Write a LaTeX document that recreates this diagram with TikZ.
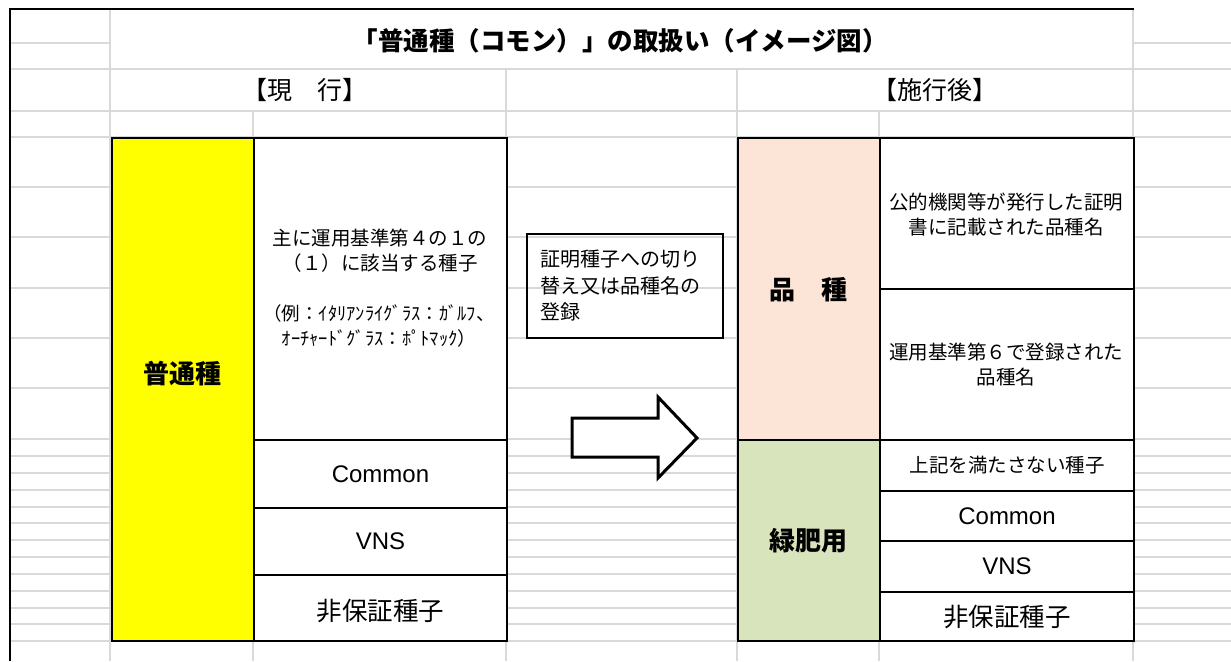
\documentclass[tikz,border=0pt]{standalone}
\usepackage{fontspec}
\newfontfamily\jp{Noto Sans CJK JP}
\newfontfamily\lat{Liberation Sans}
\definecolor{gridgray}{HTML}{D9D9D9}
\definecolor{pinkfill}{HTML}{FCE4D6}
\definecolor{greenfill}{HTML}{D8E4BC}
\definecolor{yellowfill}{HTML}{FFFF00}
\tikzset{
  gridline/.style={draw=gridgray, line width=1.3pt},
  frameline/.style={draw=black, line width=2pt},
  cellbox/.style={draw=black, line width=2pt, inner sep=0pt, anchor=north west, fill=white},
  lbl/.style={align=center, inner sep=0pt},
  jmid/.style={lbl, font=\jp\fontsize{19.5}{25}\selectfont},
  jbig/.style={lbl, font=\jp\fontsize{25.5}{30}\selectfont},
  lbig/.style={lbl, font=\lat\fontsize{24}{28}\selectfont},
  jbold/.style={lbl, font=\jp\bfseries\fontsize{26}{30}\selectfont},
}
\begin{document}
\begin{tikzpicture}[x=1pt, y=-1pt]
\useasboundingbox (0,0) rectangle (1231,661);
% spreadsheet grid
\foreach \yy in {69,111,137,187,237,288,338,388,439,456,473,490,507,523,540,557,574,591,608,624,641}
  \draw[gridline] (10,\yy) -- (1231,\yy);
\draw[gridline] (10,43) -- (110,43);
\draw[gridline] (1133,43) -- (1231,43);
\draw[gridline] (110,9) -- (110,661);
\draw[gridline] (253,111) -- (253,661);
\draw[gridline] (506,69) -- (506,661);
\draw[gridline] (737,69) -- (737,661);
\draw[gridline] (879,111) -- (879,661);
\draw[gridline] (1133,9) -- (1133,661);
\draw[frameline] (10,661) -- (10,9) -- (1134,9);

% headings
\node[lbl, font=\jp\bfseries\fontsize{25.5}{30}\selectfont] (title) at (620,41) {「普通種（コモン）」の取扱い（イメージ図）};
\node[lbl, font=\jp\fontsize{25}{28}\selectfont] (cur) at (305,90) {【現　行】};
\node[lbl, font=\jp\fontsize{25}{28}\selectfont] (aft) at (935,90) {【施行後】};

% left (current)
\node[cellbox, fill=yellowfill, minimum width=142pt, minimum height=503pt] (ybox) at (111,137) {};
\node[jbold] (ylab) at (182,374) {普通種};
\node[cellbox, minimum width=253pt, minimum height=302pt] (lmain) at (253,137) {};
\node[jmid] (lmaintxt) at (380,250.5) {主に運用基準第４の１の\\（１）に該当する種子};
\node[lbl, font=\jp\fontsize{18.5}{25}\selectfont] (lex) at (379,325.5) {（例：ｲﾀﾘｱﾝﾗｲｸﾞﾗｽ：ｶﾞﾙﾌ、\\ｵｰﾁｬｰﾄﾞｸﾞﾗｽ：ﾎﾟﾄﾏｯｸ）};
\node[cellbox, minimum width=253pt, minimum height=68pt] (lcommon) at (253,439) {};
\node[lbig] at (lcommon.center) (lcommontxt) {Common};
\node[cellbox, minimum width=253pt, minimum height=67pt] (lvns) at (253,507) {};
\node[lbig] at (lvns.center) (lvnstxt) {VNS};
\node[cellbox, minimum width=253pt, minimum height=66pt] (lnon) at (253,574) {};
\node[jbig] at ([yshift=-3pt]lnon.center) (lnontxt) {非保証種子};

% text box and arrow
\node[draw=black, line width=1.6pt, anchor=north west, inner sep=0pt, inner xsep=14pt,
      minimum width=196pt, minimum height=104pt, text width=168pt, align=left,
      font=\jp\fontsize{20}{26.5}\selectfont] (note) at (526,233) {証明種子への切り\\替え又は品種名の\\登録};
\draw[draw=black, line width=3pt, fill=white, line join=miter]
  (572,418) -- (658,418) -- (658,397) -- (697,438) -- (658,478) -- (658,457) -- (572,457) -- cycle;

% right (after)
\node[cellbox, fill=pinkfill, minimum width=142pt, minimum height=302pt] (pbox) at (737,137) {};
\node[jbold] (plab) at (808,290) {品　種};
\node[cellbox, minimum width=254pt, minimum height=151pt] (rcert) at (879,137) {};
\node[jmid] (rcerttxt) at (1006,214.5) {公的機関等が発行した証明\\書に記載された品種名};
\node[cellbox, minimum width=254pt, minimum height=151pt] (rreg) at (879,288) {};
\node[jmid] (rregtxt) at (1006,364.5) {運用基準第６で登録された\\品種名};
\node[cellbox, fill=greenfill, minimum width=142pt, minimum height=201pt] (gbox) at (737,439) {};
\node[jbold] (glab) at (808,541) {緑肥用};
\node[cellbox, minimum width=254pt, minimum height=51pt] (rother) at (879,439) {};
\node[jmid] at (rother.center) (rothertxt) {上記を満たさない種子};
\node[cellbox, minimum width=254pt, minimum height=50pt] (rcommon) at (879,490) {};
\node[lbig] at (rcommon.center) (rcommontxt) {Common};
\node[cellbox, minimum width=254pt, minimum height=51pt] (rvns) at (879,540) {};
\node[lbig] at (rvns.center) (rvnstxt) {VNS};
\node[cellbox, minimum width=254pt, minimum height=49pt] (rnon) at (879,591) {};
\node[jbig] at (rnon.center) (rnontxt) {非保証種子};
\end{tikzpicture}
\end{document}
